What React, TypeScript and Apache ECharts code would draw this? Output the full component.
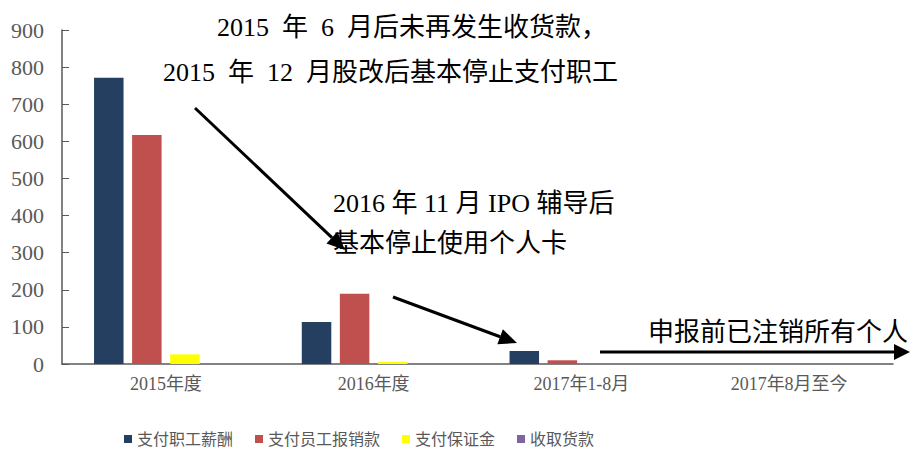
import React, { useEffect, useRef } from "react";
import * as echarts from "echarts";

const categories = ["2015年度", "2016年度", "2017年1-8月", "2017年8月至今"];
const salaryPaid = [771, 113, 35, 0];
const expensePaid = [617, 189, 10, 0];
const depositPaid = [26, 6, 0, 0];
const paymentReceived = [0, 0, 0, 0];
const seriesNames = ["支付职工薪酬", "支付员工报销款", "支付保证金", "收取货款"];
const seriesColors = ["#243F60", "#C0504D", "#FFFF00", "#8064A2"];
const yTicks = { min: 0, max: 900, interval: 100 };

const note1a = "2015  年  6  月后未再发生收货款，";
const note1b = "2015  年  12  月股改后基本停止支付职工";
const note2a = "2016 年 11 月 IPO 辅导后";
const note2b = "基本停止使用个人卡";
const note3 = "申报前已注销所有个人";

const FONT = "'Liberation Serif', 'Noto Sans CJK SC', serif";

function arrow(x1: number, y1: number, x2: number, y2: number, headLen = 18, headW = 8) {
  const dx = x2 - x1;
  const dy = y2 - y1;
  const len = Math.sqrt(dx * dx + dy * dy);
  const ux = dx / len;
  const uy = dy / len;
  const bx = x2 - ux * headLen;
  const by = y2 - uy * headLen;
  const px = -uy;
  const py = ux;
  return [
    {
      type: "line",
      shape: { x1, y1, x2: bx, y2: by },
      style: { stroke: "#000", lineWidth: 3 },
      silent: true,
    },
    {
      type: "polygon",
      shape: {
        points: [
          [x2, y2],
          [bx + px * headW, by + py * headW],
          [bx - px * headW, by - py * headW],
        ],
      },
      style: { fill: "#000" },
      silent: true,
    },
  ];
}

export default function App() {
  const ref = useRef<HTMLDivElement>(null);
  useEffect(() => {
    document.body.style.margin = "0";
    const chart = echarts.init(ref.current!, null, { renderer: "svg" });
    const values = [salaryPaid, expensePaid, depositPaid, paymentReceived];
    const textStyle = (text: string, x: number, y: number) => ({
      type: "text",
      x,
      y,
      style: {
        text,
        font: `26px ${FONT}`,
        fill: "#000",
        verticalAlign: "middle",
      },
      silent: true,
    });
    chart.setOption({
      animation: false,
      grid: { left: 62, right: 25, top: 30, bottom: 85, containLabel: false },
      legend: {
        left: 119,
        top: 428,
        padding: [2, 5, 2, 5],
        icon: "rect",
        itemWidth: 8,
        itemHeight: 8,
        itemGap: 22,
        textStyle: {
          fontSize: 16,
          lineHeight: 18,
          color: "#595959",
          fontFamily: "'Liberation Sans', 'Noto Sans CJK SC', sans-serif",
        },
        data: seriesNames,
      },
      xAxis: {
        type: "category",
        data: categories,
        axisLine: { lineStyle: { color: "#595959", width: 1.5 } },
        axisTick: { inside: true, length: 6, lineStyle: { color: "#595959" } },
        axisLabel: { color: "#595959", fontSize: 18, fontFamily: FONT, margin: 11 },
      },
      yAxis: {
        type: "value",
        min: yTicks.min,
        max: yTicks.max,
        interval: yTicks.interval,
        splitLine: { show: false },
        axisLine: { show: true, lineStyle: { color: "#595959", width: 1.5 } },
        axisTick: { show: true, inside: true, length: 7, lineStyle: { color: "#595959" } },
        axisLabel: { color: "#595959", fontSize: 22, fontFamily: FONT, margin: 18 },
      },
      series: seriesNames.map((name, i) => ({
        name,
        type: "bar",
        data: values[i],
        barWidth: 29.5,
        barGap: "29%",
        barCategoryGap: "31%",
        itemStyle: { color: seriesColors[i] },
      })),
      graphic: [
        textStyle(note1a, 217, 27),
        textStyle(note1b, 163, 72),
        textStyle(note2a, 333, 203),
        textStyle(note2b, 333, 243),
        textStyle(note3, 648, 332),
        ...arrow(195, 108, 345, 250),
        ...arrow(393, 297, 517, 343),
        ...arrow(600, 352, 910, 352, 16, 8),
      ],
    });
    return () => chart.dispose();
  }, []);
  return <div ref={ref} style={{ width: 918, height: 449, position: "absolute", left: 0, top: 0 }} />;
}
